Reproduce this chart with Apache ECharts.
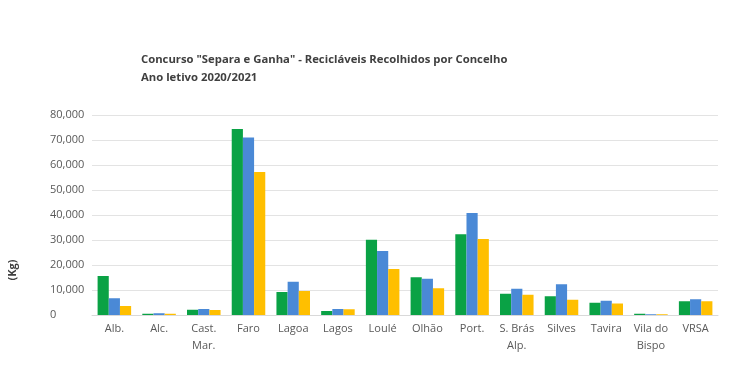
<!DOCTYPE html>
<html><head><meta charset="utf-8">
<script src="https://cdn.jsdelivr.net/npm/echarts@6/dist/echarts.min.js"></script>
<style>html,body{margin:0;padding:0;background:#fff}#c{width:730px;height:378px}</style>
</head><body><div id="c"></div>
<script>
var categories = ['Alb.', 'Alc.', 'Cast.\nMar.', 'Faro', 'Lagoa', 'Lagos', 'Loulé', 'Olhão', 'Port.', 'S. Brás\nAlp.', 'Silves', 'Tavira', 'Vila do\nBispo', 'VRSA'];
var seriesGreen = [15600, 500, 2100, 74400, 9200, 1600, 30100, 15100, 32300, 8500, 7500, 4900, 500, 5500];
var seriesBlue = [6700, 700, 2400, 71000, 13300, 2400, 25600, 14500, 40800, 10500, 12300, 5700, 300, 6300];
var seriesYellow = [3600, 500, 2000, 57200, 9600, 2300, 18400, 10700, 30400, 8100, 6100, 4600, 300, 5500];
var yTicks = [0, 10000, 20000, 30000, 40000, 50000, 60000, 70000, 80000];
var titleText = 'Concurso "Separa e Ganha" - Recicláveis Recolhidos por Concelho\nAno letivo 2020/2021';
var yName = '(Kg)';

var chart = echarts.init(document.getElementById('c'), null, {renderer: 'canvas'});
var font = 'Open Sans';
function mk(data, color) {
  return {type: 'bar', data: data, itemStyle: {color: color}, barGap: '0%', barCategoryGap: '25%', animation: false};
}
chart.setOption({
  animation: false,
  title: {text: titleText, left: 136, top: 46, textStyle: {fontFamily: font, fontSize: 11.3, fontWeight: 'bold', color: '#404040', lineHeight: 18}},
  grid: {left: 92, right: 12, top: 115, bottom: 63},
  graphic: [{type: 'text', x: 13, y: 270, rotation: Math.PI / 2,
    style: {text: yName, fontFamily: font, fontSize: 11, fontWeight: 'bold', fill: '#404040', textAlign: 'center', textVerticalAlign: 'middle'}}],
  xAxis: {type: 'category', data: categories,
    axisLine: {lineStyle: {color: '#d9d9d9'}}, axisTick: {show: false},
    axisLabel: {fontFamily: font, fontSize: 11, color: '#595959', lineHeight: 17, margin: 5, interval: 0}},
  yAxis: {type: 'value', min: yTicks[0], max: yTicks[yTicks.length - 1], interval: 10000,
    axisLine: {show: false}, axisTick: {show: false},
    splitLine: {lineStyle: {color: '#e3e3e3', width: 1}},
    axisLabel: {fontFamily: font, fontSize: 11, color: '#595959', align: 'left', margin: 42,
      formatter: function (v) { return v.toLocaleString('en-US'); }}},
  series: [mk(seriesGreen, '#0aa245'), mk(seriesBlue, '#4a89d6'), mk(seriesYellow, '#ffbf00')]
});
</script></body></html>
